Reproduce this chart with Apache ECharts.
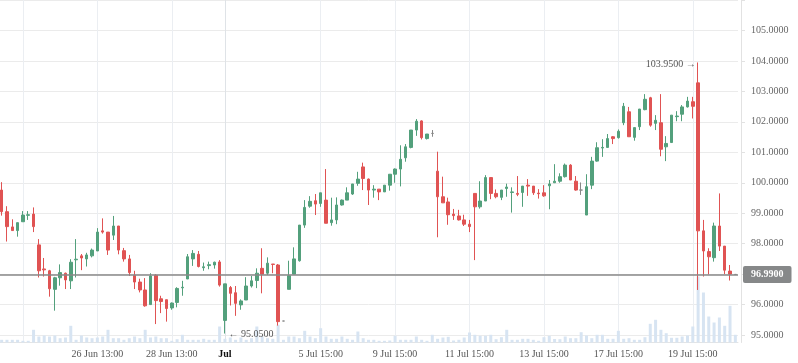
<!DOCTYPE html>
<html>
<head>
<meta charset="utf-8">
<script src="https://cdn.jsdelivr.net/npm/echarts@6/dist/echarts.min.js"></script>
<style>html,body{margin:0;padding:0;background:#fff}#c{width:798px;height:363px}</style>
</head>
<body>
<div id="c"></div>
<script>
const opens = [99.76,99.05,98.55,98.43,98.72,98.93,98.97,97.96,97.17,97.11,
96.50,96.88,97.03,96.78,97.47,97.60,97.50,97.60,97.76,98.42,
98.38,98.28,98.58,97.77,97.50,96.96,96.74,96.48,96.00,96.96,
96.19,96.16,95.89,96.07,96.55,96.84,97.50,97.65,97.21,97.28,
97.30,97.40,95.48,96.56,96.39,95.99,96.15,96.61,96.79,97.19,
97.03,97.33,97.30,95.46,96.50,97.00,97.44,98.61,99.23,99.41,
99.32,99.43,98.69,98.78,99.27,99.43,99.63,99.98,100.52,100.12,
99.76,99.79,99.70,99.92,100.28,100.45,100.82,101.16,101.73,102.03,
101.45,101.62,100.38,99.54,99.37,98.97,98.91,98.78,98.64,99.65,
99.21,99.40,100.17,99.65,99.52,99.81,99.68,99.65,99.68,99.92,
99.89,99.66,99.67,99.90,100.00,100.05,100.20,100.58,100.05,99.76,
98.94,99.92,100.71,101.14,101.16,101.51,101.48,101.97,102.33,101.49,
101.84,102.40,102.79,101.95,101.97,101.18,101.32,102.17,102.25,102.49,
102.66,103.28,98.42,97.74,97.54,98.58,97.92,97.10,96.99];
const closes = [99.05,98.56,98.43,98.69,98.94,98.95,98.56,97.11,97.14,96.52,
96.88,97.05,96.81,97.39,97.49,97.53,97.63,97.79,98.38,98.38,
97.79,98.58,97.79,97.50,97.05,96.74,96.48,95.96,96.94,96.13,
96.10,95.87,96.05,96.53,96.57,97.57,97.68,97.25,97.24,97.31,
97.39,96.64,96.68,96.37,96.04,96.12,96.61,96.78,97.03,97.00,
97.36,97.32,95.44,95.46,96.95,97.50,98.61,99.19,99.39,99.30,
99.67,98.67,98.78,99.27,99.43,99.67,99.96,100.12,100.14,99.76,
99.79,99.70,99.92,100.28,100.45,100.77,101.18,101.73,102.02,101.48,
101.60,101.62,99.54,99.34,98.95,98.92,98.78,98.64,98.56,99.21,
99.40,100.17,99.65,99.54,99.76,99.86,99.70,99.62,99.89,99.89,
99.67,99.64,99.57,99.96,100.05,100.20,100.58,100.09,99.76,99.76,
99.87,100.71,101.15,101.16,101.45,101.45,101.69,102.51,101.51,101.81,
102.42,102.74,101.89,102.05,101.10,101.29,102.22,102.19,102.49,102.68,
102.51,98.42,97.76,97.57,98.58,97.92,97.13,97.00,96.99];
const lows = [98.92,98.07,98.43,98.23,98.72,98.78,98.38,96.89,96.92,96.26,
95.80,96.62,96.51,96.51,96.89,97.13,97.25,97.55,97.76,98.33,
97.63,98.12,97.65,97.41,96.94,96.51,96.40,95.93,96.00,95.36,
95.72,95.44,95.83,95.91,96.29,96.84,97.27,97.22,97.11,97.16,
97.18,96.59,95.05,95.97,95.63,95.83,96.15,96.56,96.54,96.37,
96.97,97.03,95.31,95.46,96.50,97.00,97.41,98.52,99.18,98.94,
99.21,98.67,98.59,98.64,99.25,99.43,99.60,99.90,99.76,99.27,
99.51,99.43,99.70,99.74,100.00,99.88,100.69,101.13,101.54,101.42,
101.42,101.51,98.21,99.34,98.62,98.78,98.76,98.58,98.38,97.46,
99.15,99.40,99.46,99.49,99.43,99.54,99.02,99.56,99.21,99.57,
99.60,99.48,99.54,99.13,100.00,100.00,100.17,100.09,99.74,99.60,
98.94,99.79,100.69,100.85,101.16,101.27,101.45,101.89,101.51,101.38,
101.73,102.38,101.84,101.73,100.87,100.71,101.31,102.02,102.02,102.47,
102.11,96.48,96.92,96.99,97.41,97.76,97.00,96.79,96.99];
const highs = [100.02,99.23,98.80,98.69,99.07,99.07,99.19,98.15,97.53,97.14,
96.91,97.32,97.05,97.49,98.15,97.66,97.70,97.84,98.51,98.83,
98.38,98.91,98.58,97.86,97.63,97.11,96.85,96.87,97.03,97.00,
96.29,96.16,96.07,96.57,96.78,97.66,97.79,97.76,97.38,97.41,
97.41,97.46,96.68,96.61,96.61,96.17,96.90,96.94,97.19,97.85,
97.55,97.33,97.33,95.46,97.44,97.88,98.61,99.43,99.56,99.63,
99.67,100.45,99.51,99.52,99.45,99.85,99.96,100.36,100.66,100.14,
99.92,99.79,99.92,100.28,100.47,101.23,101.27,101.73,102.09,102.05,
101.60,101.73,101.02,100.20,99.51,99.14,99.11,98.95,98.78,99.65,
100.05,100.25,100.17,99.78,99.76,99.97,99.85,100.22,99.89,100.12,
99.89,99.79,99.92,100.09,100.61,100.31,100.63,100.61,100.22,100.01,
100.28,100.85,101.33,101.43,101.60,101.53,101.75,102.62,102.49,101.81,
102.42,102.91,102.82,102.22,102.91,101.53,102.22,102.35,102.55,102.82,
102.82,103.95,98.78,97.85,98.69,99.65,97.92,97.30,96.99];
const volumes = [27,27,27,27,17,17,127,60,70,60,
70,43,50,167,27,70,50,43,50,60,
127,43,43,27,43,60,43,127,50,60,
43,43,17,33,77,27,27,27,37,27,
27,160,37,50,27,50,27,43,160,60,
43,37,177,27,60,60,43,117,60,43,
143,60,37,37,60,37,27,110,43,27,
27,17,17,20,67,27,27,27,60,27,
17,77,37,50,57,20,27,50,100,77,
67,67,77,33,53,127,27,27,37,37,
27,17,53,67,35,33,60,43,43,103,
70,43,77,77,37,37,117,37,43,27,
27,53,187,227,127,93,47,47,60,70,
160,660,500,260,200,250,167,367,77];
const tickIndex = [4, 18, 32, 42, 60, 74, 88, 102, 116, 130];
const tickLabels = ['', '26 Jun 13:00', '28 Jun 13:00', 'Jul', '5 Jul 15:00', '9 Jul 15:00', '11 Jul 15:00', '13 Jul 15:00', '17 Jul 15:00', '19 Jul 15:00'];
const monthTick = 'Jul';

const N = opens.length;
const cats = opens.map((_, i) => String(i));
const candles = opens.map((o, i) => [o, closes[i], lows[i], highs[i]]);
const lastPrice = closes[N - 1];
const labelMap = {};
tickIndex.forEach((t, k) => { labelMap[t] = tickLabels[k]; });
const FONT = 'Liberation Serif';
const GREEN = '#53a07c', RED = '#e05353';

const chart = echarts.init(document.getElementById('c'), null, {renderer: 'canvas'});
chart.setOption({
  animation: false,
  backgroundColor: '#ffffff',
  grid: [
    {left: -1, width: 739, top: 0, height: 365.5, outerBoundsMode: 'none', containLabel: false},
    {left: -1, width: 739, top: 0, height: 342.5, outerBoundsMode: 'none', containLabel: false}
  ],
  xAxis: [
    {type: 'category', gridIndex: 0, data: cats, boundaryGap: true, show: false},
    {type: 'category', gridIndex: 1, data: cats, boundaryGap: true,
      axisLine: {show: true, lineStyle: {color: '#e4e4e4', width: 1}},
      axisTick: {show: false},
      axisLabel: {
        interval: (i) => labelMap[i] !== undefined && labelMap[i] !== '',
        formatter: (v, i) => {
          const s = labelMap[i] || '';
          return s === monthTick ? '{b|' + s + '}' : s;
        },
        margin: 7, fontSize: 10, color: '#555', fontFamily: FONT,
        rich: {b: {fontWeight: 'bold', color: '#111', fontSize: 10, fontFamily: FONT}}
      },
      splitLine: {show: true, interval: (i) => labelMap[i] !== undefined, alignWithLabel: true,
        lineStyle: {color: ['#ebeef2','#ebeef2','#ebeef2','#dfe3e7','#ebeef2','#ebeef2','#ebeef2','#ebeef2','#ebeef2','#ebeef2'], width: 1}}
    }
  ],
  yAxis: [
    {type: 'value', gridIndex: 0, position: 'right', offset: 3, min: 94, max: 106, interval: 1,
      axisLine: {show: false},
      axisTick: {show: true, length: 4, lineStyle: {color: '#e2e2e2'}},
      axisLabel: {margin: 10, fontSize: 10, color: '#666', fontFamily: FONT,
        formatter: (v) => (v <= 94 || v >= 106 || Math.abs(v - Math.round(lastPrice)) < 1e-9) ? '' : v.toFixed(4)},
      splitLine: {show: true, lineStyle: {color: '#ebebeb', width: 1}}
    },
    {type: 'value', gridIndex: 1, position: 'right', offset: 3, min: 0, max: 3425,
      axisLine: {show: true, lineStyle: {color: '#e2e2e2', width: 1}},
      axisTick: {show: false}, axisLabel: {show: false}, splitLine: {show: false}
    }
  ],
  series: [
    {type: 'bar', xAxisIndex: 1, yAxisIndex: 1, data: volumes, barWidth: 3, silent: true, z: 1,
      itemStyle: {color: '#d7e4f2'}},
    {type: 'candlestick', xAxisIndex: 0, yAxisIndex: 0, data: candles, barWidth: 3, clip: false, z: 3,
      itemStyle: {color: GREEN, color0: RED, borderColor: GREEN, borderColor0: RED, borderColorDoji: '#888888', borderWidth: 1},
      markPoint: {
        symbol: 'circle', symbolSize: 1, silent: true,
        itemStyle: {color: 'rgba(0,0,0,0)'},
        data: [
          {type: 'max', valueDim: 'highest',
            label: {show: true, position: 'left', distance: 2, offset: [0, 2], fontSize: 10, color: '#555', fontFamily: FONT,
              formatter: (p) => Number(p.value).toFixed(4) + ' \u2192'}},
          {type: 'min', valueDim: 'lowest',
            label: {show: true, position: 'right', distance: 3, offset: [0, 1], fontSize: 10, color: '#555', fontFamily: FONT,
              formatter: (p) => '\u2190 ' + Number(p.value).toFixed(4)}}
        ]
      },
      markLine: {
        silent: true, symbol: ['none', 'none'], animation: false,
        lineStyle: {color: '#888888', width: 1.5, type: 'solid'},
        label: {show: true, position: 'end', distance: 5, formatter: () => lastPrice.toFixed(4),
          backgroundColor: '#868889', color: '#ffffff', fontWeight: 'bold', fontSize: 10, fontFamily: FONT,
          padding: [3, 8, 3, 8], borderRadius: [2, 2, 2, 2], lineHeight: 11},
        data: [{yAxis: lastPrice}]
      }
    }
  ]
});
</script>
</body>
</html>
